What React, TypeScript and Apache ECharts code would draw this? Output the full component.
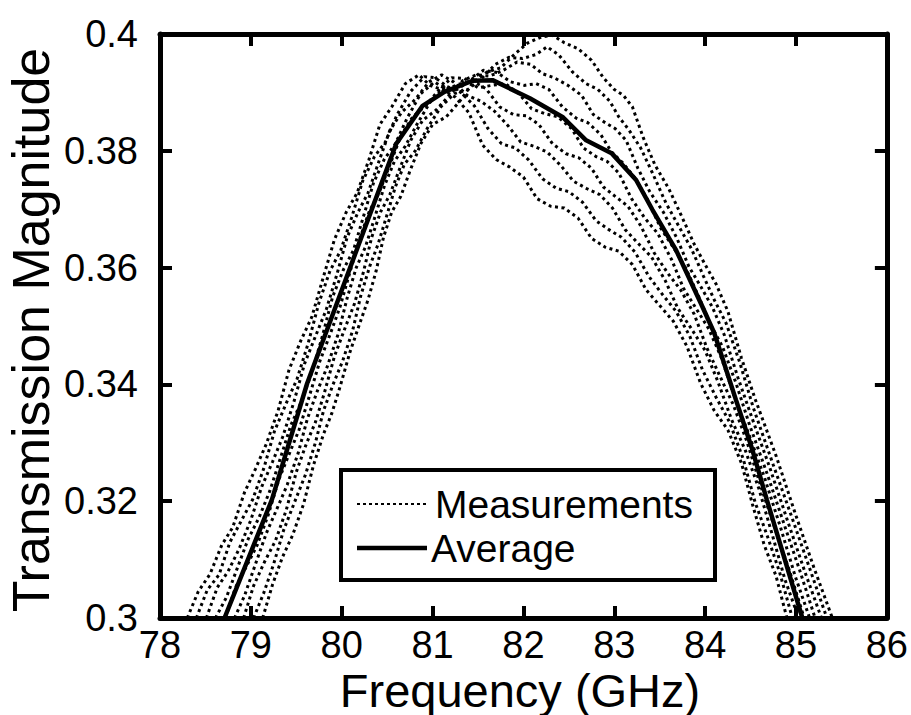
import React, { useEffect, useRef } from "react";
import * as echarts from "echarts";

// Axis ranges / ticks
const xMin = 78, xMax = 86, xStep = 1;
const yMin = 0.3, yMax = 0.4, yStep = 0.02;

const xTitle = "Frequency (GHz)";
const yTitle = "Transmission Magnitude";
const legendLabels = ["Measurements", "Average"];

// Average curve
const avgX = [78.71, 79.23, 79.62, 80.09, 80.6, 80.89, 81.13, 81.44, 81.66, 82.07, 82.43, 82.69, 82.97, 83.24, 83.42, 83.68, 83.97, 84.1, 84.34, 84.52, 84.68, 85.07];
const avgY = [0.3, 0.3202, 0.3402, 0.3599, 0.3812, 0.3877, 0.3901, 0.392, 0.3921, 0.389, 0.3858, 0.3818, 0.3796, 0.375, 0.3699, 0.363, 0.3533, 0.3488, 0.3373, 0.3288, 0.3202, 0.3];

// Individual measurements [frequency, magnitude]
const m1 = [[78.30,.300],[78.42,.3045],[78.55,.3075],[78.68,.3125],[78.80,.3155],[78.93,.3215],[79.05,.3255],[79.17,.3298],[79.30,.3355],[79.42,.3425],[79.55,.3475],[79.67,.3515],[79.80,.3585],[79.92,.3648],[80.05,.3695],[80.17,.3728],[80.30,.3785],[80.42,.3845],[80.55,.3875],[80.70,.3915],[80.85,.3930],[80.97,.3912],[81.10,.3905],[81.25,.3892],[81.40,.3865],[81.55,.3810],[81.70,.3785],[81.85,.3772],[82.00,.3755],[82.15,.3718],[82.30,.3705],[82.45,.3702],[82.60,.3685],[82.75,.3650],[82.90,.3635],[83.05,.3628],[83.20,.3605],[83.35,.3562],[83.50,.3535],[83.65,.3508],[83.80,.3465],[83.95,.3402],[84.10,.3355],[84.25,.3322],[84.40,.3265],[84.52,.3195],[84.65,.3125],[84.78,.3072],[84.90,.300]];
const m2 = [[78.40,.300],[78.52,.3048],[78.65,.3074],[78.77,.3130],[78.90,.3168],[79.02,.3203],[79.14,.3255],[79.26,.3320],[79.39,.3368],[79.51,.3410],[79.63,.3470],[79.75,.3540],[79.87,.3594],[79.99,.3630],[80.11,.3686],[80.23,.3748],[80.36,.3790],[80.48,.3815],[80.61,.3862],[80.76,.3902],[80.91,.3927],[81.03,.3925],[81.16,.3910],[81.31,.3900],[81.46,.3877],[81.61,.3838],[81.76,.3812],[81.91,.3805],[82.06,.3784],[82.21,.3752],[82.36,.3736],[82.50,.3730],[82.65,.3712],[82.80,.3680],[82.94,.3665],[83.08,.3652],[83.23,.3626],[83.38,.3585],[83.53,.3554],[83.68,.3525],[83.83,.3483],[83.97,.3425],[84.12,.3378],[84.27,.3335],[84.42,.3272],[84.55,.3198],[84.69,.3138],[84.82,.3078],[84.96,.300]];
const m3 = [[78.51,.300],[78.63,.3052],[78.75,.3080],[78.87,.3118],[79.00,.3168],[79.12,.3225],[79.24,.3268],[79.35,.3310],[79.47,.3368],[79.59,.3435],[79.71,.3482],[79.83,.3528],[79.95,.3590],[80.06,.3652],[80.18,.3695],[80.29,.3728],[80.41,.3782],[80.53,.3835],[80.66,.3866],[80.81,.3888],[80.96,.3918],[81.10,.3930],[81.23,.3918],[81.38,.3895],[81.53,.3885],[81.68,.3868],[81.83,.3843],[81.97,.3815],[82.11,.3808],[82.26,.3798],[82.41,.3775],[82.55,.3748],[82.70,.3735],[82.84,.3725],[82.98,.3702],[83.12,.3665],[83.26,.3642],[83.41,.3618],[83.56,.3578],[83.70,.3530],[83.85,.3495],[84.00,.3458],[84.14,.3405],[84.29,.3340],[84.44,.3288],[84.59,.3222],[84.74,.3142],[84.88,.3065],[85.03,.300]];
const m4 = [[78.61,.300],[78.73,.3035],[78.85,.3085],[78.97,.3135],[79.09,.3172],[79.21,.3218],[79.33,.3276],[79.44,.3330],[79.56,.3372],[79.67,.3420],[79.79,.3484],[79.90,.3550],[80.02,.3597],[80.13,.3630],[80.24,.3688],[80.35,.3745],[80.47,.3786],[80.59,.3812],[80.72,.3856],[80.87,.3898],[81.02,.3918],[81.15,.3905],[81.29,.3914],[81.44,.3920],[81.59,.3906],[81.74,.3875],[81.89,.3862],[82.03,.3860],[82.17,.3845],[82.32,.3812],[82.47,.3795],[82.61,.3788],[82.75,.3770],[82.88,.3738],[83.01,.3722],[83.15,.3705],[83.29,.3672],[83.44,.3625],[83.59,.3590],[83.73,.3562],[83.88,.3520],[84.02,.3462],[84.16,.3415],[84.31,.3365],[84.46,.3302],[84.62,.3222],[84.78,.3148],[84.93,.3080],[85.09,.300]];
const m5 = [[78.72,.300],[78.83,.3052],[78.95,.3088],[79.07,.3125],[79.19,.3176],[79.31,.3238],[79.43,.3284],[79.53,.3322],[79.64,.3378],[79.76,.3440],[79.88,.3489],[79.98,.3532],[80.09,.3592],[80.20,.3650],[80.30,.3695],[80.41,.3728],[80.53,.3776],[80.65,.3825],[80.78,.3858],[80.93,.3878],[81.08,.3906],[81.21,.3925],[81.35,.3924],[81.50,.3908],[81.65,.3912],[81.80,.3915],[81.95,.3898],[82.09,.3872],[82.23,.3864],[82.38,.3858],[82.53,.3838],[82.66,.3805],[82.80,.3790],[82.92,.3782],[83.05,.3762],[83.19,.3718],[83.33,.3686],[83.48,.3658],[83.63,.3614],[83.76,.3565],[83.90,.3530],[84.04,.3495],[84.18,.3445],[84.33,.3375],[84.48,.3315],[84.65,.3242],[84.83,.3155],[84.99,.3072],[85.15,.300]];
const m6 = [[78.82,.300],[78.93,.3038],[79.05,.3092],[79.17,.3145],[79.29,.3188],[79.40,.3228],[79.52,.3282],[79.62,.3340],[79.73,.3388],[79.84,.3430],[79.96,.3486],[80.06,.3548],[80.16,.3600],[80.26,.3635],[80.36,.3684],[80.47,.3740],[80.58,.3782],[80.70,.3808],[80.83,.3846],[80.98,.3885],[81.13,.3908],[81.27,.3905],[81.41,.3920],[81.56,.3938],[81.71,.3934],[81.86,.3918],[82.01,.3912],[82.14,.3915],[82.28,.3905],[82.43,.3875],[82.58,.3856],[82.71,.3848],[82.85,.3828],[82.97,.3798],[83.09,.3780],[83.22,.3755],[83.36,.3718],[83.51,.3668],[83.66,.3632],[83.79,.3598],[83.93,.3550],[84.06,.3502],[84.19,.3465],[84.34,.3402],[84.49,.3330],[84.68,.3248],[84.87,.3160],[85.04,.3082],[85.21,.300]];
const m7 = [[78.92,.300],[79.03,.3055],[79.15,.3096],[79.27,.3132],[79.39,.3185],[79.50,.3250],[79.61,.3298],[79.71,.3335],[79.81,.3386],[79.92,.3448],[80.04,.3498],[80.14,.3538],[80.24,.3593],[80.33,.3652],[80.43,.3696],[80.53,.3725],[80.64,.3770],[80.76,.3818],[80.89,.3852],[81.04,.3870],[81.19,.3896],[81.33,.3920],[81.48,.3930],[81.63,.3928],[81.78,.3938],[81.93,.3952],[82.08,.3948],[82.21,.3932],[82.34,.3925],[82.49,.3912],[82.64,.3895],[82.77,.3862],[82.90,.3848],[83.01,.3838],[83.13,.3818],[83.26,.3770],[83.39,.3730],[83.54,.3695],[83.69,.3650],[83.82,.3602],[83.95,.3568],[84.08,.3532],[84.21,.3485],[84.36,.3412],[84.51,.3345],[84.71,.3258],[84.91,.3165],[85.10,.3078],[85.28,.300]];
const m8 = [[79.03,.300],[79.14,.3042],[79.25,.3092],[79.36,.3150],[79.48,.3198],[79.60,.3245],[79.71,.3300],[79.80,.3355],[79.90,.3398],[80.01,.3440],[80.12,.3492],[80.21,.3552],[80.31,.3603],[80.40,.3640],[80.49,.3686],[80.59,.3738],[80.69,.3777],[80.81,.3800],[80.94,.3838],[81.09,.3875],[81.24,.3898],[81.39,.3905],[81.54,.3924],[81.69,.3948],[81.84,.3960],[81.99,.3958],[82.14,.3965],[82.26,.3978],[82.39,.3964],[82.54,.3935],[82.69,.3915],[82.82,.3905],[82.95,.3885],[83.05,.3858],[83.16,.3836],[83.29,.3805],[83.42,.3762],[83.57,.3710],[83.72,.3668],[83.85,.3632],[83.98,.3586],[84.10,.3545],[84.23,.3505],[84.38,.3438],[84.53,.3360],[84.75,.3262],[84.96,.3170],[85.15,.3085],[85.34,.300]];
const m9 = [[79.13,.300],[79.24,.3058],[79.35,.3105],[79.46,.3142],[79.58,.3195],[79.69,.3262],[79.80,.3315],[79.89,.3350],[79.98,.3395],[80.09,.3455],[80.20,.3505],[80.29,.3545],[80.38,.3595],[80.46,.3652],[80.55,.3695],[80.65,.3722],[80.75,.3765],[80.87,.3812],[81.00,.3845],[81.15,.3858],[81.30,.3885],[81.45,.3918],[81.60,.3935],[81.75,.3942],[81.90,.3965],[82.05,.3985],[82.20,.3995],[82.32,.3998],[82.45,.3985],[82.60,.3975],[82.75,.3955],[82.88,.3925],[83.00,.3905],[83.10,.3895],[83.20,.3875],[83.32,.3822],[83.45,.3775],[83.60,.3735],[83.75,.3685],[83.88,.3640],[84.00,.3605],[84.12,.3572],[84.25,.3525],[84.40,.3445],[84.55,.3375],[84.78,.3278],[85.00,.3175],[85.20,.3085],[85.40,.300]];
const measurements = [m1, m2, m3, m4, m5, m6, m7, m8, m9];

const FONT = "'Liberation Sans', Arial, Helvetica, sans-serif";

export default function App() {
  const ref = useRef<HTMLDivElement>(null);
  useEffect(() => {
    document.body.style.margin = "0";
    const chart = echarts.init(ref.current!, null, { renderer: "svg" });
    const axisLine = { show: true, lineStyle: { color: "#000", width: 5 } };
    const axisTick = { show: true, inside: true, length: 12, lineStyle: { color: "#000", width: 4 } };
    const labelStyle = { color: "#000", fontSize: 38, fontFamily: FONT };
    const xBase = { type: "value", min: xMin, max: xMax, interval: xStep, splitLine: { show: false }, axisLine, axisTick };
    const yBase = { type: "value", min: yMin, max: yMax, interval: yStep, splitLine: { show: false }, axisLine, axisTick };
    const series: any[] = measurements.map((d, i) => ({
      type: "line",
      name: legendLabels[0] + " " + (i + 1),
      data: d,
      showSymbol: false,
      silent: true,
      lineStyle: { color: "#000", width: 3, type: [3, 3.5] },
      z: 2,
    }));
    series.push({
      type: "line",
      name: legendLabels[1],
      data: avgX.map((x, i) => [x, avgY[i]]),
      showSymbol: false,
      silent: true,
      lineStyle: { color: "#000", width: 4.5 },
      z: 3,
    });
    chart.setOption({
      animation: false,
      backgroundColor: "#fff",
      grid: { left: 160, top: 34, right: 23, bottom: 97 },
      xAxis: [
        { ...xBase, position: "bottom", axisLabel: { ...labelStyle, margin: 8 } },
        { ...xBase, position: "top", axisLabel: { show: false } },
      ],
      yAxis: [
        { ...yBase, position: "left", axisLabel: { ...labelStyle, margin: 22, formatter: (v: number) => String(+v.toFixed(2)) } },
        { ...yBase, position: "right", axisLabel: { show: false } },
      ],
      series,
      graphic: [
        { type: "text", x: 520, y: 690, style: { text: xTitle, align: "center", verticalAlign: "middle", fontSize: 47, fontFamily: FONT, fill: "#000" } },
        { type: "text", x: 31, y: 330, rotation: Math.PI / 2, style: { text: yTitle, align: "center", verticalAlign: "middle", fontSize: 52, fontFamily: FONT, fill: "#000" } },
        { type: "rect", z: 100, shape: { x: 341, y: 470, width: 374, height: 110 }, style: { fill: "#fff", stroke: "#000", lineWidth: 4 } },
        { type: "line", z: 101, shape: { x1: 357, y1: 504, x2: 427, y2: 504 }, style: { stroke: "#000", lineWidth: 2, lineDash: [3, 3] } },
        { type: "text", z: 101, x: 435, y: 504, style: { text: legendLabels[0], verticalAlign: "middle", fontSize: 39, fontFamily: FONT, fill: "#000" } },
        { type: "line", z: 101, shape: { x1: 357, y1: 548, x2: 427, y2: 548 }, style: { stroke: "#000", lineWidth: 4.5 } },
        { type: "text", z: 101, x: 431, y: 548, style: { text: legendLabels[1], verticalAlign: "middle", fontSize: 39, fontFamily: FONT, fill: "#000" } },
      ],
    });
    return () => chart.dispose();
  }, []);
  return <div ref={ref} style={{ width: 911, height: 715 }} />;
}
